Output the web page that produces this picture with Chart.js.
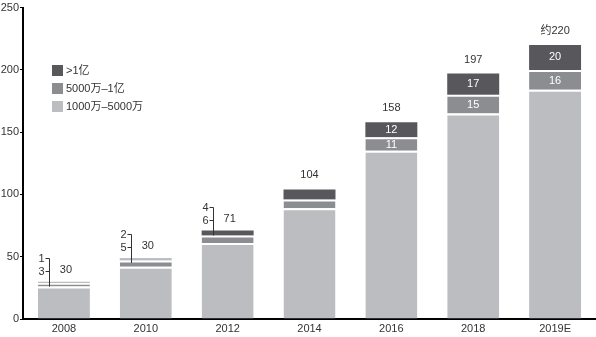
<!DOCTYPE html>
<html>
<head>
<meta charset="utf-8">
<script src="https://cdn.jsdelivr.net/npm/chart.js@4/dist/chart.umd.min.js"></script>
<style>
  html, body { margin: 0; padding: 0; background: #fff; }
  #wrap { width: 596px; height: 337px; position: relative; }
</style>
</head>
<body>
<div id="wrap"><canvas id="c"></canvas></div>
<script>
// Number of companies by revenue band (stacked)
const categories = ['2008', '2010', '2012', '2014', '2016', '2018', '2019E'];
const seriesNames = ['1000万–5000万', '5000万–1亿', '>1亿'];
const band1000to5000 = [26, 42, 61, 89, 135, 165, 184];
const band5000to1yi = [3, 5, 6, 7, 11, 15, 16];
const bandOver1yi = [1, 2, 4, 8, 12, 17, 20];
const totalLabels = ['30', '30', '71', '104', '158', '197', '约220'];
// how the two upper segment values are shown for each year
const valueStyle = ['leader', 'leader', 'leader', 'none', 'inside', 'inside', 'inside'];
const yTicks = [0, 50, 100, 150, 200, 250];

const LIGHT = '#bcbdc1';
const MID = '#8c8d91';
const DARK = '#58585c';
const TEXT = '#333333';
const FONT = '"Liberation Sans", "Noto Sans CJK SC", Arial, sans-serif';

Chart.defaults.font.family = FONT;
Chart.defaults.font.size = 11;
Chart.defaults.color = TEXT;

// the thin top strips of the first two years appear in the light tone
const topColors = categories.map((c, i) => (i < 2 ? LIGHT : DARK));

const legendPlugin = {
  id: 'cornerLegend',
  afterDraw(chart) {
    const ctx = chart.ctx;
    const order = [2, 1, 0];
    const colors = [LIGHT, MID, DARK];
    ctx.save();
    ctx.font = '11px ' + FONT;
    ctx.textAlign = 'left';
    ctx.textBaseline = 'middle';
    order.forEach((di, row) => {
      const cy = 71 + row * 18;
      ctx.fillStyle = colors[di];
      ctx.fillRect(52, cy - 6, 11, 11);
      ctx.fillStyle = TEXT;
      ctx.fillText(chart.data.datasets[di].label, 66, cy);
    });
    ctx.restore();
  }
};

const valuePlugin = {
  id: 'valueLabels',
  afterDatasetsDraw(chart) {
    const ctx = chart.ctx;
    const metaMid = chart.getDatasetMeta(1);
    const metaTop = chart.getDatasetMeta(2);
    ctx.save();
    ctx.font = '11px ' + FONT;
    ctx.textBaseline = 'middle';
    categories.forEach((cat, i) => {
      const topBar = metaTop.data[i];
      const midBar = metaMid.data[i];
      const x = topBar.x;
      const topY = topBar.y;
      const style = valueStyle[i];
      ctx.fillStyle = TEXT;
      ctx.textAlign = 'center';
      if (style === 'leader') {
        ctx.fillText(totalLabels[i], x + 2, topY - 12);
        const lx = Math.round(x - 15) + 0.5;
        const y1 = Math.round(topY - 24) + 0.5;
        const y2 = Math.round(topY - 11) + 0.5;
        ctx.strokeStyle = TEXT;
        ctx.lineWidth = 1;
        ctx.beginPath();
        ctx.moveTo(lx, y1);
        ctx.lineTo(lx, topY + 5);
        ctx.moveTo(lx - 4, y1);
        ctx.lineTo(lx, y1);
        ctx.moveTo(lx - 4, y2);
        ctx.lineTo(lx, y2);
        ctx.stroke();
        ctx.textAlign = 'right';
        ctx.fillText(String(bandOver1yi[i]), lx - 5, y1);
        ctx.fillText(String(band5000to1yi[i]), lx - 5, y2);
      } else {
        ctx.fillText(totalLabels[i], x, topY - 14);
      }
      if (style === 'inside') {
        ctx.fillStyle = '#ffffff';
        ctx.textAlign = 'center';
        ctx.fillText(String(bandOver1yi[i]), x, (topBar.y + topBar.base) / 2);
        ctx.fillText(String(band5000to1yi[i]), x, (midBar.y + 2 + midBar.base) / 2);
      }
    });
    ctx.restore();
  }
};

new Chart(document.getElementById('c'), {
  type: 'bar',
  data: {
    labels: categories,
    datasets: [
      {
        label: seriesNames[0],
        data: band1000to5000,
        backgroundColor: LIGHT,
        borderColor: '#ffffff',
        borderWidth: { top: 2, left: 0, right: 0, bottom: 0 },
        borderSkipped: false
      },
      {
        label: seriesNames[1],
        data: band5000to1yi,
        backgroundColor: MID,
        borderColor: '#ffffff',
        borderWidth: { top: 2, left: 0, right: 0, bottom: 0 },
        borderSkipped: false
      },
      {
        label: seriesNames[2],
        data: bandOver1yi,
        backgroundColor: topColors,
        borderWidth: 0
      }
    ]
  },
  options: {
    responsive: true,
    maintainAspectRatio: false,
    animation: false,
    layout: { padding: { top: 7, right: 0, bottom: 0, left: 0 } },
    datasets: { bar: { barPercentage: 0.635, categoryPercentage: 1 } },
    plugins: {
      legend: { display: false },
      tooltip: { enabled: false }
    },
    scales: {
      x: {
        stacked: true,
        grid: { display: false, drawTicks: false, tickLength: 0 },
        border: { display: true, color: '#000', width: 2 },
        ticks: { color: TEXT, font: { size: 11 }, padding: 3 },
        afterFit(scale) { scale.height = 18; }
      },
      y: {
        stacked: true,
        min: 0,
        max: 250,
        afterBuildTicks(scale) { scale.ticks = yTicks.map(v => ({ value: v })); },
        grid: { drawOnChartArea: false, drawTicks: true, tickLength: 3, color: '#000' },
        border: { display: true, color: '#000', width: 2 },
        ticks: { color: TEXT, font: { size: 11 }, padding: 1 },
        afterFit(scale) { scale.width = 23; }
      }
    }
  },
  plugins: [legendPlugin, valuePlugin]
});
</script>
</body>
</html>
